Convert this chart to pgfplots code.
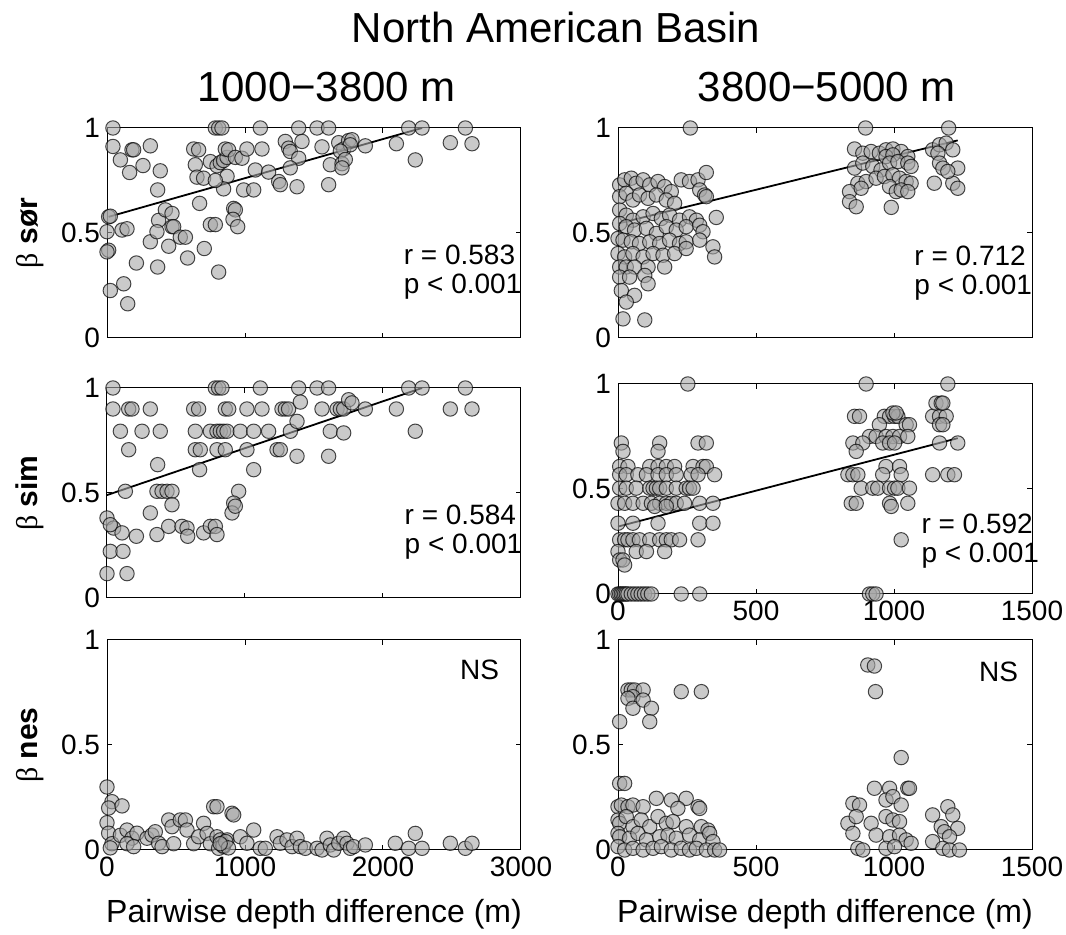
\documentclass[border=0pt]{standalone}
\usepackage{fontspec}
\setmainfont{Liberation Sans}
\newfontfamily\greekfont{Liberation Serif}
\usepackage{pgfplots}
\pgfplotsset{compat=1.18}
\pgfplotsset{
  panel/.style={
    scale only axis, width=207pt, height=105pt,
    ymin=0, ymax=1, ytick={0,0.5,1}, yticklabels={0,0.5,1},
    tick align=inside, major tick length=2.5pt,
    xtick pos=both, ytick pos=both,
    axis line style={line width=0.5pt},
    every tick/.style={black, line width=0.5pt},
    tick label style={font=\fontsize{14}{16}\selectfont},
    clip=false, scaled ticks=false,
    every axis y label/.style={at={(axis description cs:-0.186,0.5)}, rotate=90, anchor=center, font=\fontsize{15}{17}\selectfont},
    every axis x label/.style={at={(axis description cs:0.5,-0.343)}, anchor=base, font=\fontsize{16}{18}\selectfont},
  },
  leftcol/.style={panel, xmin=0, xmax=3000, xtick={0,1000,2000,3000}},
  rightcol/.style={panel, xmin=0, xmax=1500, xtick={0,500,1000,1500}},
  pts/.style={only marks, mark=*, mark size=3.6pt,
    mark options={fill=black!35, fill opacity=0.6, draw=black, draw opacity=0.7, line width=0.5pt}},
  fit/.style={black, line width=0.9pt, no marks},
}
\newcommand{\ann}{\fontsize{14}{16}\selectfont}
\begin{document}
\begin{tikzpicture}
\useasboundingbox (0,0) rectangle (533pt,467.5pt);
\node[anchor=base, font=\fontsize{21}{24}\selectfont] at (278pt,446pt) {North American Basin};
\node[anchor=base, font=\fontsize{21}{24}\selectfont] at (163.5pt,416.5pt) {1000−3800 m};
\node[anchor=base, font=\fontsize{21}{24}\selectfont] at (413.5pt,416.5pt) {3800−5000 m};

% ---------- Panel A: left top, beta sor ----------
\begin{axis}[leftcol, at={(53.5pt,298.5pt)}, anchor=south west,
  xticklabels={,,,}, ylabel={{\greekfont β} \textbf{sør}}]
\addplot[pts] coordinates {
(43,1)(785,1)(809,1)(833,1)(1111,1)(1389,1)(1522,1)(1606,1)(2186,1)(2283,1)(2597,1)
(43,0.912)(181,0.896)(193,0.896)(314,0.915)(97,0.848)(164,0.788)(261,0.821)(386,0.796)(367,0.705)
(628,0.90)(664,0.896)(640,0.825)(652,0.766)(700,0.761)(749,0.84)(797,0.82)(821,0.835)(845,0.845)(870,0.86)
(857,0.9)(881,0.896)(870,0.77)(845,0.71)(785,0.75)(930,0.86)(978,0.856)(1014,0.9)(1123,0.9)(1075,0.8)
(1171,0.79)(990,0.705)(1063,0.705)(1244,0.745)(1256,0.73)(1292,0.936)(1316,0.904)(1328,0.888)(1413,0.936)
(1389,0.856)(1328,0.81)(1377,0.72)(1558,0.91)(1606,0.73)(1618,0.825)(1679,0.93)(1715,0.90)(1751,0.94)
(1775,0.944)(1763,0.92)(1691,0.89)(1703,0.83)(1727,0.85)(1703,0.81)(1872,0.915)(2097,0.925)(2234,0.848)
(2488,0.93)(2645,0.925)
(12,0.577)(24,0.58)(0,0.506)(12,0.418)(0,0.41)(24,0.226)(121,0.258)(150,0.163)(109,0.514)(145,0.52)
(314,0.458)(213,0.357)(367,0.338)(374,0.56)(423,0.61)(471,0.593)(362,0.506)(471,0.53)(483,0.53)(531,0.48)
(568,0.48)(447,0.437)(584,0.381)(671,0.641)(705,0.426)(749,0.54)(785,0.54)(809,0.314)(918,0.617)(930,0.61)
(913,0.565)(947,0.53)
};
\addplot[fit] coordinates {(12,0.577) (2283,1)};
\node[anchor=base west, font=\ann] at (rel axis cs:0.70,0.348) {r = 0.583};
\node[anchor=base west, font=\ann] at (rel axis cs:0.70,0.214) {p < 0.001};
\end{axis}

% ---------- Panel B: right top, beta sor ----------
\begin{axis}[rightcol, at={(309pt,298.5pt)}, anchor=south west, xticklabels={,,,}]
\addplot[pts] coordinates {
(262,1)(897,1)(1198,1)
(6,0.729)(24,0.753)(48,0.761)(66,0.737)(91,0.753)(115,0.729)(145,0.745)(169,0.721)(193,0.697)
(229,0.753)(259,0.745)(290,0.753)(320,0.788)(296,0.705)(314,0.681)(320,0.673)
(6,0.673)(30,0.689)(54,0.657)(78,0.681)(109,0.665)(139,0.681)(175,0.657)(205,0.641)
(6,0.609)(30,0.585)(54,0.561)(91,0.577)(127,0.593)(157,0.569)(187,0.585)(223,0.561)(259,0.577)(284,0.561)(356,0.574)
(6,0.545)(30,0.53)(60,0.514)(103,0.522)(139,0.498)(175,0.53)(211,0.514)(247,0.53)(296,0.537)(308,0.506)
(0,0.474)(18,0.466)(48,0.458)(78,0.45)(115,0.458)(151,0.45)(187,0.466)(223,0.45)(247,0.458)(296,0.466)(344,0.434)(350,0.386)
(0,0.402)(24,0.386)(54,0.402)(91,0.386)(127,0.402)(163,0.394)(205,0.402)(247,0.426)
(6,0.338)(30,0.338)(60,0.338)(109,0.338)(169,0.338)
(6,0.29)(42,0.29)(97,0.298)(109,0.258)
(12,0.226)(60,0.203)(30,0.171)(18,0.091)(97,0.086)
(857,0.9)(887,0.88)(917,0.888)(947,0.88)(971,0.896)(996,0.9)(1026,0.888)(1050,0.864)(971,0.864)(996,0.872)
(857,0.809)(887,0.833)(923,0.817)(953,0.8)(984,0.833)(1014,0.84)(1050,0.833)(1062,0.817)
(869,0.737)(899,0.745)(935,0.761)(965,0.769)(996,0.777)(1020,0.761)(1044,0.745)(1062,0.737)
(839,0.697)(881,0.713)(984,0.721)(1008,0.697)(1026,0.705)(1050,0.697)
(839,0.649)(863,0.625)(990,0.622)
(1140,0.896)(1165,0.92)(1189,0.928)(1213,0.896)(1159,0.88)(1165,0.833)(1177,0.809)(1231,0.809)
(1146,0.737)(1213,0.737)(1231,0.713)(1195,0.793)
};
\addplot[fit] coordinates {(0,0.545) (1231,0.941)};
\node[anchor=base west, font=\ann] at (rel axis cs:0.699,0.343) {r = 0.712};
\node[anchor=base west, font=\ann] at (rel axis cs:0.699,0.205) {p < 0.001};
\end{axis}

% ---------- Panel C: left middle, beta sim ----------
\begin{axis}[leftcol, at={(53.5pt,168.5pt)}, anchor=south west,
  xticklabels={,,,}, ylabel={{\greekfont β} \textbf{sim}}]
\addplot[pts] coordinates {
(43,1)(785,1)(809,1)(833,1)(1111,1)(1389,1)(1522,1)(1606,1)(2186,1)(2283,1)(2597,1)
(43,0.9)(157,0.9)(181,0.9)(314,0.9)(628,0.9)(664,0.9)(857,0.9)(882,0.9)(1014,0.9)(1123,0.9)(1268,0.9)
(1292,0.9)(1316,0.9)(1558,0.9)(1667,0.9)(1691,0.9)(1715,0.9)(1872,0.9)(2097,0.9)(2488,0.9)(2645,0.9)
(1401,0.933)(1751,0.944)(1775,0.929)
(97,0.794)(254,0.794)(386,0.794)(640,0.794)(749,0.794)(797,0.794)(821,0.794)(845,0.794)(870,0.794)
(966,0.794)(1063,0.794)(1171,0.794)(1329,0.794)(1618,0.794)(2234,0.794)(1377,0.841)(1715,0.786)
(157,0.706)(640,0.706)(676,0.706)(797,0.706)(857,0.706)(1014,0.706)(1232,0.706)(1256,0.706)
(1377,0.675)(1606,0.675)(367,0.635)(671,0.611)(1063,0.611)
(133,0.508)(362,0.508)(399,0.508)(435,0.508)(471,0.508)(954,0.508)
(471,0.444)(918,0.452)(906,0.405)(930,0.437)(314,0.405)
(0,0.381)(48,0.333)(24,0.349)(109,0.31)(213,0.294)(362,0.302)(447,0.341)(543,0.341)(580,0.333)
(585,0.294)(700,0.31)(749,0.341)(785,0.341)(797,0.302)
(24,0.222)(116,0.222)(0,0.116)(145,0.116)
};
\addplot[fit] coordinates {(0,0.49) (2283,1)};
\node[anchor=base west, font=\ann] at (rel axis cs:0.702,0.348) {r = 0.584};
\node[anchor=base west, font=\ann] at (rel axis cs:0.702,0.214) {p < 0.001};
\end{axis}

% ---------- Panel D: right middle, beta sim ----------
\begin{axis}[rightcol, at={(309pt,170.5pt)}, anchor=south west,
  xticklabels={0,500,1000,1500}]
\addplot[pts] coordinates {
(253,1)(899,1)(1195,1)
(0,0)(6,0)(12,0)(18,0)(24,0)(30,0)(36,0)(48,0)(60,0)(72,0)(84,0)(96,0)(108,0)(121,0)(229,0)(296,0)(911,0)(923,0)(935,0)
(12,0.719)(151,0.719)(290,0.719)(320,0.719)(18,0.679)(145,0.679)
(6,0.607)(36,0.607)(115,0.607)(145,0.607)(175,0.607)(205,0.607)(272,0.607)(308,0.607)(320,0.607)
(6,0.568)(30,0.568)(72,0.568)(103,0.568)(145,0.568)(175,0.568)(211,0.568)(265,0.568)(290,0.568)(350,0.568)
(6,0.504)(30,0.504)(66,0.504)(115,0.504)(127,0.504)(139,0.504)(151,0.504)(175,0.504)(211,0.504)(247,0.504)(259,0.504)(272,0.504)
(0,0.432)(24,0.432)(54,0.432)(91,0.432)(121,0.432)(151,0.432)(175,0.432)(193,0.432)(211,0.432)(241,0.432)(296,0.432)(344,0.432)
(133,0.417)(175,0.417)
(0,0.337)(54,0.337)(145,0.337)(296,0.337)(344,0.337)
(6,0.258)(24,0.258)(36,0.258)(54,0.258)(78,0.258)(115,0.258)(151,0.258)(175,0.258)(193,0.258)(223,0.258)(290,0.258)
(0,0.202)(66,0.202)(103,0.202)(169,0.202)(6,0.162)(18,0.162)(24,0.138)
(857,0.846)(875,0.846)(965,0.846)(984,0.846)(1002,0.846)(1014,0.846)(1140,0.846)(1165,0.846)(1189,0.846)
(1152,0.909)(1171,0.909)(1177,0.909)(996,0.862)(1008,0.862)
(1165,0.806)(1177,0.806)(947,0.806)(1044,0.806)(1056,0.806)
(911,0.75)(935,0.75)(971,0.75)(996,0.75)(1020,0.75)(1050,0.75)
(851,0.719)(887,0.719)(959,0.719)(984,0.719)(1002,0.719)(1165,0.719)(1231,0.719)
(863,0.679)(971,0.607)(1020,0.607)
(833,0.568)(851,0.568)(869,0.568)(959,0.568)(1026,0.568)(1140,0.568)(1195,0.568)(1219,0.568)
(881,0.504)(923,0.504)(941,0.504)(984,0.504)(1002,0.504)(1014,0.504)(1056,0.504)
(845,0.432)(863,0.432)(984,0.432)(1050,0.432)(990,0.417)(1026,0.258)
};
\addplot[fit] coordinates {(0,0.321) (1231,0.742)};
\node[anchor=base west, font=\ann] at (rel axis cs:0.716,0.29) {r = 0.592};
\node[anchor=base west, font=\ann] at (rel axis cs:0.716,0.152) {p < 0.001};
\end{axis}

% ---------- Panel E: left bottom, beta nes ----------
\begin{axis}[leftcol, at={(53.5pt,42.5pt)}, anchor=south west,
  xticklabels={0,1000,2000,3000}, ylabel={{\greekfont β} \textbf{nes}},
  xlabel={Pairwise depth difference (m)}]
\addplot[pts] coordinates {
(0,0.30)(36,0.23)(12,0.2)(109,0.21)(0,0.13)(12,0.08)(36,0.03)(24,0.01)
(97,0.07)(145,0.095)(181,0.056)(217,0.08)(145,0.03)(193,0.016)
(290,0.056)(326,0.071)(350,0.087)(374,0.032)(399,0.016)
(447,0.143)(471,0.111)(531,0.143)(568,0.143)(580,0.095)(483,0.03)
(628,0.03)(664,0.063)(700,0.127)(725,0.079)(773,0.206)(797,0.206)(749,0.03)
(797,0.063)(821,0.048)(833,0.032)(845,0.016)(870,0.048)(809,0.008)(840,0.02)(860,0.04)(880,0.01)(820,0.03)
(906,0.175)(918,0.167)(966,0.063)(1014,0.032)(1063,0.095)(1111,0.008)(1147,0.008)
(1232,0.063)(1256,0.032)(1304,0.048)(1341,0.016)(1377,0.056)(1401,0.016)(1437,0.008)
(1522,0.008)(1558,0)(1594,0.056)(1618,0.024)(1643,0)(1679,0.032)(1715,0.056)(1739,0.032)(1763,0.008)(1787,0.016)(1872,0.024)
(2089,0.032)(2186,0.008)(2234,0.079)(2283,0.008)(2488,0.032)(2597,0.008)(2645,0.032)
};
\node[anchor=base west, font=\ann] at (rel axis cs:0.836,0.81) {NS};
\end{axis}

% ---------- Panel F: right bottom, beta nes ----------
\begin{axis}[rightcol, at={(309pt,42.5pt)}, anchor=south west,
  xticklabels={0,500,1000,1500}, xlabel={Pairwise depth difference (m)}]
\addplot[pts] coordinates {
(6,0.611)(36,0.762)(48,0.762)(60,0.762)(91,0.762)(54,0.73)(36,0.722)(54,0.675)(91,0.714)(121,0.675)(115,0.611)(229,0.754)(302,0.754)
(6,0.317)(24,0.317)
(905,0.881)(929,0.876)(933,0.754)(1026,0.44)
(929,0.294)(984,0.294)(1050,0.294)(1056,0.294)
(851,0.222)(875,0.214)(971,0.238)(996,0.254)(1026,0.214)(1140,0.167)(1195,0.206)(1213,0.167)
(833,0.127)(863,0.159)(917,0.127)(971,0.159)(996,0.143)(1020,0.135)(1171,0.111)(1231,0.103)(1183,0.087)
(851,0.079)(935,0.071)(984,0.063)(1020,0.071)(1044,0.048)(1140,0.04)(1201,0.063)
(869,0.008)(887,0)(971,0.008)(1002,0.016)(1062,0.032)(1177,0.008)(1201,0)(1237,0)
(0,0.206)(12,0.214)(36,0.206)(54,0.214)(91,0.206)(139,0.246)(193,0.238)(247,0.246)(290,0.206)(296,0.198)(217,0.198)
(0,0.143)(6,0.127)(30,0.159)(54,0.111)(84,0.143)(115,0.111)(145,0.159)(175,0.127)(199,0.135)(247,0.111)(302,0.111)(326,0.095)
(0,0.079)(6,0.063)(42,0.056)(72,0.079)(103,0.048)(151,0.063)(181,0.071)(211,0.056)(259,0.071)(296,0.048)(332,0.079)(344,0.04)
(0,0.016)(24,0)(54,0.008)(91,0)(127,0.008)(157,0.016)(193,0)(229,0.008)(259,0)(284,0.008)(320,0)(350,0)(368,0)
};
\node[anchor=base west, font=\ann] at (rel axis cs:0.855,0.80) {NS};
\end{axis}
\end{tikzpicture}
\end{document}
